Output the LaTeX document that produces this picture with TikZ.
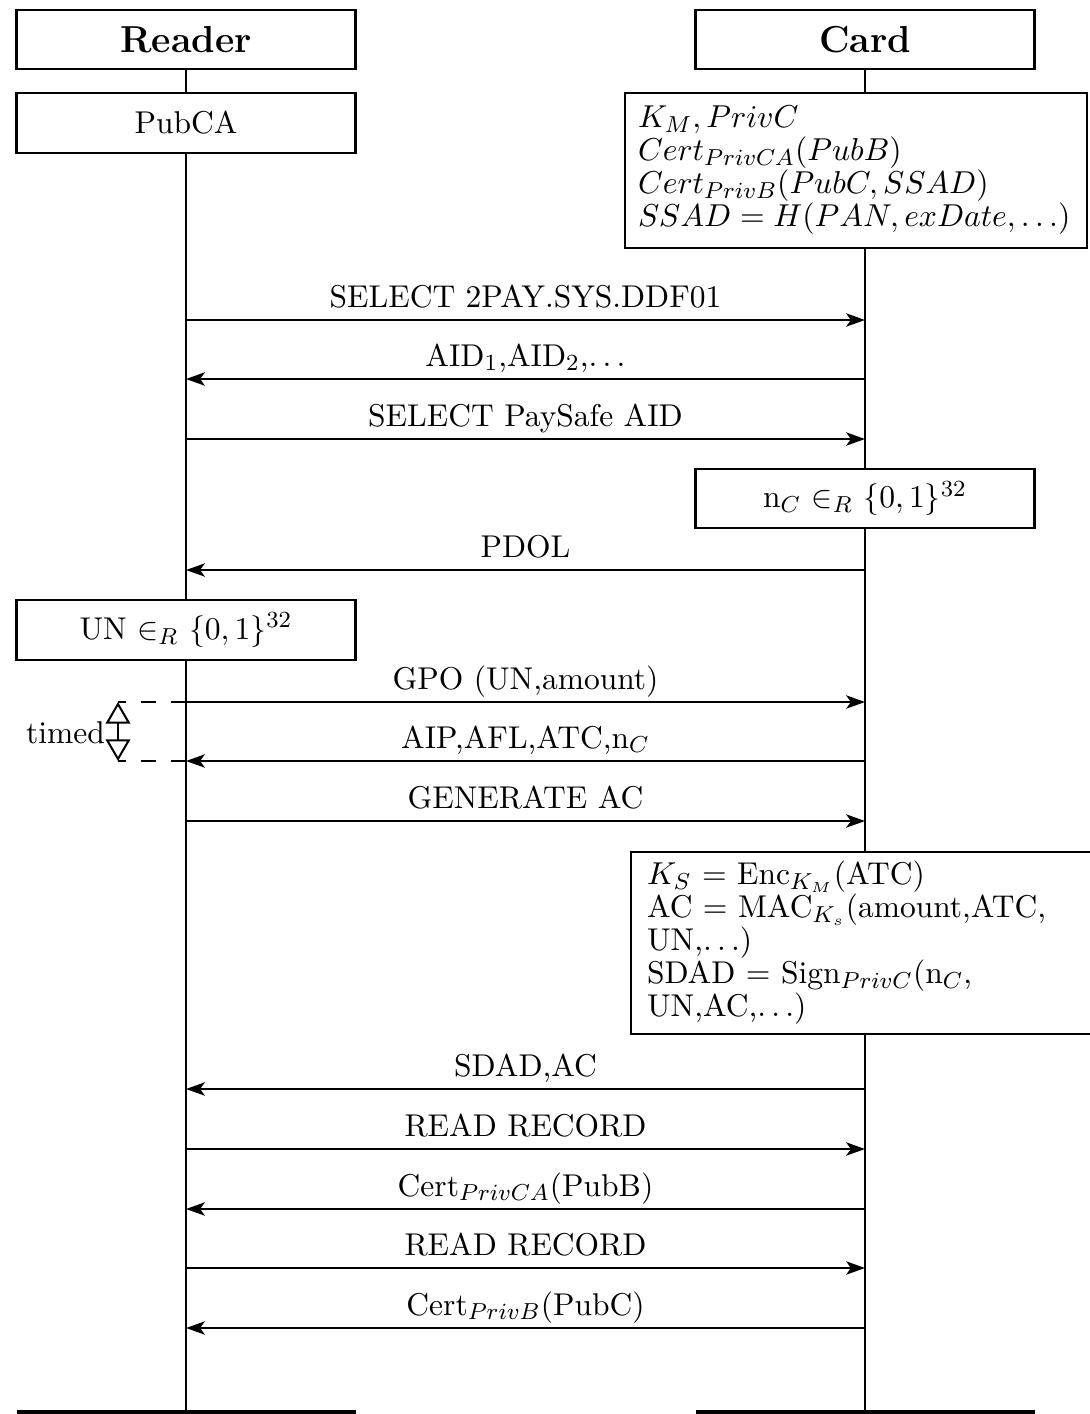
\documentclass[tikz,border=0pt]{standalone}
\usetikzlibrary{arrows.meta}
\begin{document}
\begin{tikzpicture}[x=0.346pt,y=-0.346pt, line width=0.7pt,
  font=\fontsize{10.9pt}{11.4pt}\selectfont,
  box/.style={draw, fill=white, minimum width=339*0.346pt, minimum height=59*0.346pt, inner sep=0pt},
  head/.style={box, font=\fontsize{13pt}{15pt}\selectfont\bfseries},
  bigbox/.style={draw, fill=white, align=left, inner ysep=2pt},
  msg/.style={-{Stealth[length=6.5pt,width=4.6pt,inset=1.6pt]}},
  lbl/.style={anchor=base, yshift=4.5pt},
  timedarrow/.style={{Triangle[open,length=7.5pt,width=8.5pt]}-{Triangle[open,length=7.5pt,width=8.5pt]}},
  timeddash/.style={dash pattern=on 5.2pt off 5.2pt}]
\useasboundingbox (0,0) rectangle (1090,1414);
% headers
\node[head] (reader) at (186,39.5) {Reader};
\node[head] (card) at (865,39.5) {Card};
% lifelines
\coordinate (rend) at (186,1412);
\coordinate (cend) at (865,1412);
\draw (reader.south) -- (rend);
\draw (card.south) -- (cend);
% bottom bars
\coordinate (rb1) at (17,1412); \coordinate (rb2) at (356,1412);
\coordinate (cb1) at (696,1412); \coordinate (cb2) at (1035,1412);
\draw[line width=1.4pt] (rb1) -- (rb2);
\draw[line width=1.4pt] (cb1) -- (cb2);
% boxes
\node[box, minimum height=60*0.346pt] (pubca) at (186,123) {PubCA};
\node[bigbox, inner xsep=13*0.346pt, text width=436*0.346pt, minimum height=155*0.346pt] (keys) at (856,170.5)
  {$K_M, PrivC$\\ $Cert_{PrivCA}(PubB)$\\ $Cert_{PrivB}(PubC, SSAD)$\\ $SSAD = H(PAN, exDate, \ldots)$};
\node[box] (nc) at (865,498.5) {n$_C$ $\in_R$ $\{0,1\}^{32}$};
\node[box, minimum height=60*0.346pt] (un) at (186,630) {UN $\in_R$ $\{0,1\}^{32}$};
\node[bigbox, inner xsep=16*0.346pt, text width=432*0.346pt, minimum height=182*0.346pt] (acbox) at (863,942.5)
  {$K_S$ $=$ Enc$_{K_M}$(ATC)\\ AC $=$ MAC$_{K_s}$(amount,ATC,\\ UN,$\ldots$)\\ SDAD $=$ Sign$_{PrivC}$(n$_C$,\\ UN,AC,$\ldots$)};
% messages
\foreach \n/\y in {1/320,2/379,3/439,4/570,5/702,6/761,7/821,8/1089,9/1149,10/1209,11/1268,12/1328}{
  \coordinate (r\n) at (186,\y);
  \coordinate (c\n) at (865,\y);
}
\draw[msg] (r1) -- node[lbl]{SELECT 2PAY.SYS.DDF01} (c1);
\draw[msg] (c2) -- node[lbl]{AID$_1$,AID$_2$,$\ldots$} (r2);
\draw[msg] (r3) -- node[lbl]{SELECT PaySafe AID} (c3);
\draw[msg] (c4) -- node[lbl]{PDOL} (r4);
\draw[msg] (r5) -- node[lbl]{GPO (UN,amount)} (c5);
\draw[msg] (c6) -- node[lbl]{AIP,AFL,ATC,n$_C$} (r6);
\draw[msg] (r7) -- node[lbl]{GENERATE AC} (c7);
\draw[msg] (c8) -- node[lbl]{SDAD,AC} (r8);
\draw[msg] (r9) -- node[lbl]{READ RECORD} (c9);
\draw[msg] (c10) -- node[lbl]{Cert$_{PrivCA}$(PubB)} (r10);
\draw[msg] (r11) -- node[lbl]{READ RECORD} (c11);
\draw[msg] (c12) -- node[lbl]{Cert$_{PrivB}$(PubC)} (r12);
% timed
\coordinate (t1) at (118,702);
\coordinate (t2) at (118,761);
\draw[timeddash] (r5) -- (t1);
\draw[timeddash] (r6) -- (t2);
\draw[timedarrow] (t1) -- (t2);
\node[anchor=east, inner sep=0pt] (timed) at (106,733) {timed};
\end{tikzpicture}
\end{document}
